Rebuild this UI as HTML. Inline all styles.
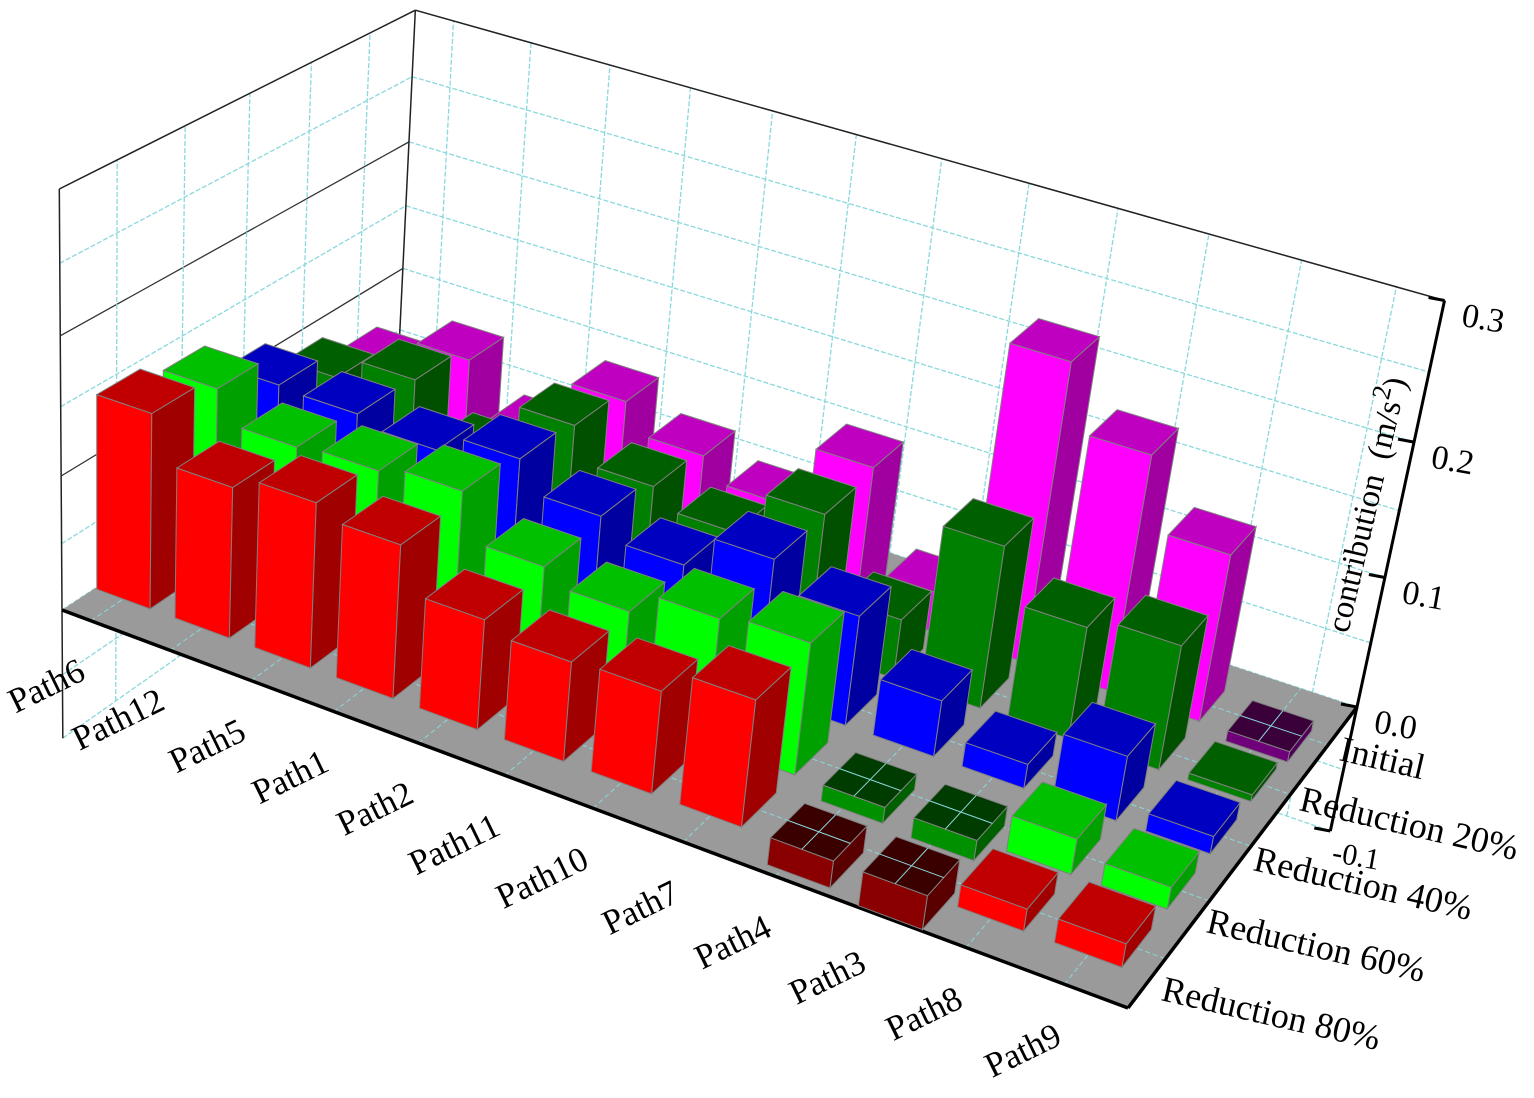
<!DOCTYPE html>
<html><head><meta charset="utf-8"><title>3D bar chart</title>
<style>
html,body{margin:0;padding:0;background:#fff;}
svg{display:block;}
text{font-family:"Liberation Serif",serif;fill:#000;}
</style></head>
<body>
<svg id="chart" width="1534" height="1098" viewBox="0 0 1534 1098" xmlns="http://www.w3.org/2000/svg">
<g id="walls"></g>
<g id="floor"></g>
<g id="bars"></g>
<g id="axes"></g>
</svg>
<script>
const categories = ["Path6","Path12","Path5","Path1","Path2","Path11","Path10","Path7","Path4","Path3","Path8","Path9"];
const seriesNames = ["Reduction 80%","Reduction 60%","Reduction 40%","Reduction 20%","Initial"];
const reduction80 = [0.145,0.112,0.122,0.113,0.081,0.073,0.075,0.092,-0.020,-0.025,0.016,0.017];
const reduction60 = [0.134,0.111,0.114,0.120,0.086,0.075,0.092,0.097,-0.012,-0.015,0.026,0.016];
const reduction40 = [0.108,0.106,0.099,0.113,0.091,0.076,0.102,0.082,0.042,0.018,0.048,0.013];
const reduction20 = [0.085,0.103,0.065,0.108,0.082,0.068,0.103,0.045,0.122,0.084,0.093,0.005];
const initialVals = [0.066,0.090,0.050,0.097,0.075,0.058,0.107,0.030,0.225,0.178,0.126,-0.008];
const zTicks = [-0.1,0.0,0.1,0.2,0.3];
const zTickLabels = ["-0.1","0.0","0.1","0.2","0.3"];

const NS="http://www.w3.org/2000/svg";
function mk(tag, attrs, parent){const e=document.createElementNS(NS,tag);for(const k in attrs)e.setAttribute(k,attrs[k]);if(parent)parent.appendChild(e);return e;}

const Q=[[62,610],[1128,1008],[1357,707],[397,390]];
const H=(function(){
  const [x0,y0]=Q[0],[x1,y1]=Q[1],[x2,y2]=Q[2],[x3,y3]=Q[3];
  const dx1=x1-x2,dx2=x3-x2,dx3=x0-x1+x2-x3,dy1=y1-y2,dy2=y3-y2,dy3=y0-y1+y2-y3;
  const den=dx1*dy2-dx2*dy1;
  const g=(dx3*dy2-dx2*dy3)/den,h=(dx1*dy3-dx3*dy1)/den;
  return {a:x1-x0+g*x1,b:x3-x0+h*x3,c:x0,d:y1-y0+g*y1,e:y3-y0+h*y3,f:y0,g:g,h:h};
})();
const VP=[100,6545];
const K=(189-610)/(0.3*(VP[1]-189));
function P(u,v,z){
  const X=H.a*u+H.b*v+H.c, Y=H.d*u+H.e*v+H.f, W=H.g*u+H.h*v+1;
  const t=z*K;
  return [(X+t*VP[0])/(W+t),(Y+t*VP[1])/(W+t)];
}
function pts(arr){return arr.map(p=>{const q=P(p[0],p[1],p[2]);return q[0].toFixed(1)+","+q[1].toFixed(1);}).join(" ");}
function line(g,a,b,attrs,name){const p=P(...a),q=P(...b);const l=mk("line",Object.assign({x1:p[0],y1:p[1],x2:q[0],y2:q[1]},attrs),g);


return l;}

const nC=categories.length;
const uC=i=>(i+0.5)/nC-0.011;
const uG=i=>(i+0.5)/nC;
const BW=0.057, BD=0.115;
const vC=j=>0.087+BD/2+j*0.178;

const walls=document.getElementById("walls");
const bw=mk("polygon",{points:pts([[0,1,-0.1],[1,1,-0.1],[1,1,0.3],[0,1,0.3]]),fill:"#fff"},walls);


const lw=mk("polygon",{points:pts([[0,0,-0.1],[0,1,-0.1],[0,1,0.3],[0,0,0.3]]),fill:"#fff"},walls);


const cy={stroke:"#8ad8dc","stroke-width":1.3,"stroke-dasharray":"5,2"};
for(let z=-0.1;z<=0.3001;z+=0.05){
  const zz=Math.round(z*100)/100;
  line(walls,[0,1,zz],[1,1,zz],cy,"back-wall-gridline");
  const major=Math.abs(zz*10-Math.round(zz*10))<1e-6 && zz>0 && zz<0.3;
  line(walls,[0,0,zz],[0,1,zz],major?{stroke:"#333","stroke-width":1.3}:cy,"left-wall-gridline");
}
for(let i=0;i<nC;i++) line(walls,[uG(i),1,-0.1],[uG(i),1,0.3],cy,"back-wall-vgridline");
for(let j=0;j<5;j++) line(walls,[0,vC(j),-0.1],[0,vC(j),0.3],cy,"left-wall-vgridline");
line(walls,[0,0,0.3],[0,1,0.3],{stroke:"#222","stroke-width":1.5},"left-wall-top-edge");
line(walls,[0,1,0.3],[1,1,0.3],{stroke:"#222","stroke-width":1.5},"back-wall-top-edge");
line(walls,[0,1,0.0],[0,1,0.3],{stroke:"#222","stroke-width":1.5},"back-left-edge");
line(walls,[0,0,-0.1],[0,0,0.3],{stroke:"#222","stroke-width":1.5},"front-left-edge");

const floor=document.getElementById("floor");
const fl=mk("polygon",{points:pts([[0,0,0],[1,0,0],[1,1,0],[0,1,0]]),fill:"#9a9a9a"},floor);


const fg={stroke:"#8ad8dc","stroke-width":1,"stroke-dasharray":"5,3"};
for(let i=0;i<nC;i++) line(floor,[uC(i),0,0],[uC(i),1,0],fg,"floor-gridline");
for(let j=0;j<5;j++) line(floor,[0,vC(j),0],[1,vC(j),0],fg,"floor-gridline");
line(floor,[0,0,0],[1,0,0],{stroke:"#000","stroke-width":3.5},"x-axis-line");
line(floor,[1,0,0],[1,1,0],{stroke:"#000","stroke-width":3.5},"y-axis-line");

const series=[reduction80,reduction60,reduction40,reduction20,initialVals];
const colors=[
 {f:"#ff0000",t:"#c00000",s:"#a00000",nf:"#8a0000",nt:"#3a0000",ns:"#5a0000"},
 {f:"#00ff00",t:"#00c000",s:"#00a000",nf:"#009000",nt:"#003c00",ns:"#006000"},
 {f:"#0000ff",t:"#0000c0",s:"#0000a0",nf:"#00008a",nt:"#00003a",ns:"#00005a"},
 {f:"#008000",t:"#006000",s:"#005000",nf:"#005000",nt:"#002800",ns:"#003800"},
 {f:"#ff00ff",t:"#c000c0",s:"#a000a0",nf:"#70007a",nt:"#3a003a",ns:"#50005a"}];
const bars=document.getElementById("bars");
const stroke={stroke:"#808080","stroke-width":1};
for(let j=4;j>=0;j--){
  for(let i=0;i<nC;i++){
    const val=series[j][i];
    const u0=uC(i)-BW/2,u1=uC(i)+BW/2,v0=vC(j)-BD/2,v1=vC(j)+BD/2;
    const z0=Math.min(0,val),z1=Math.max(0,val);
    const c=colors[j], neg=val<0;
    const g=mk("g",{},bars);
    
    
    mk("polygon",Object.assign({points:pts([[u0,v0,z0],[u1,v0,z0],[u1,v0,z1],[u0,v0,z1]]),fill:neg?c.nf:c.f},stroke),g);
    mk("polygon",Object.assign({points:pts([[u1,v0,z0],[u1,v1,z0],[u1,v1,z1],[u1,v0,z1]]),fill:neg?c.ns:c.s},stroke),g);
    mk("polygon",Object.assign({points:pts([[u0,v0,z1],[u1,v0,z1],[u1,v1,z1],[u0,v1,z1]]),fill:neg?c.nt:c.t},stroke),g);
    if(neg){
      line(g,[uC(i),v0,z1],[uC(i),v1,z1],{stroke:"#8ad8dc","stroke-width":1},"bar-grid-overlay");
      line(g,[u0,vC(j),z1],[u1,vC(j),z1],{stroke:"#8ad8dc","stroke-width":1},"bar-grid-overlay");
    }
  }
}

const axes=document.getElementById("axes");
line(axes,[1,1,-0.1],[1,1,0.3],{stroke:"#000","stroke-width":3},"z-axis-line");
zTicks.forEach((z,k)=>{
  const p=P(1,1,z);
  const tk=mk("line",{x1:p[0],y1:p[1],x2:p[0]-16,y2:p[1]-3,stroke:"#000","stroke-width":3},axes);
  
  
  const small=z<0;
  const t=mk("text",{x:p[0]+(small?6:20),y:p[1]+(small?30:22),"font-size":small?30:34,transform:"rotate(10 "+p[0]+" "+p[1]+")"},axes);
  t.textContent=zTickLabels[k];
  
  
});
const title=mk("text",{x:0,y:0,"font-size":33,transform:"translate(1348,634) rotate(-77)"},axes);


title.appendChild(document.createTextNode("contribution\u00a0\u00a0(m/s"));
const sup=mk("tspan",{dy:-13,"font-size":26},title);sup.textContent="2";
const cl=mk("tspan",{dy:13},title);cl.textContent=")";

categories.forEach((c,i)=>{
  const p=P(uG(i),0,0);
  const x=p[0]-14,y=p[1]+54;
  const t=mk("text",{x:x,y:y,"font-size":35,"text-anchor":"end",transform:"rotate(-26 "+x+" "+y+")"},axes);
  t.textContent=c;
  
  
});
const sPos=[[1160,1000],[1205,932],[1252,870],[1298,810],[1338,760]];
seriesNames.forEach((s,j)=>{
  const [x,y]=sPos[j];
  const t=mk("text",{x:x,y:y,"font-size":36,transform:"rotate(13 "+x+" "+y+")"},axes);
  t.textContent=s;
  
  
});
</script>
</body></html>
